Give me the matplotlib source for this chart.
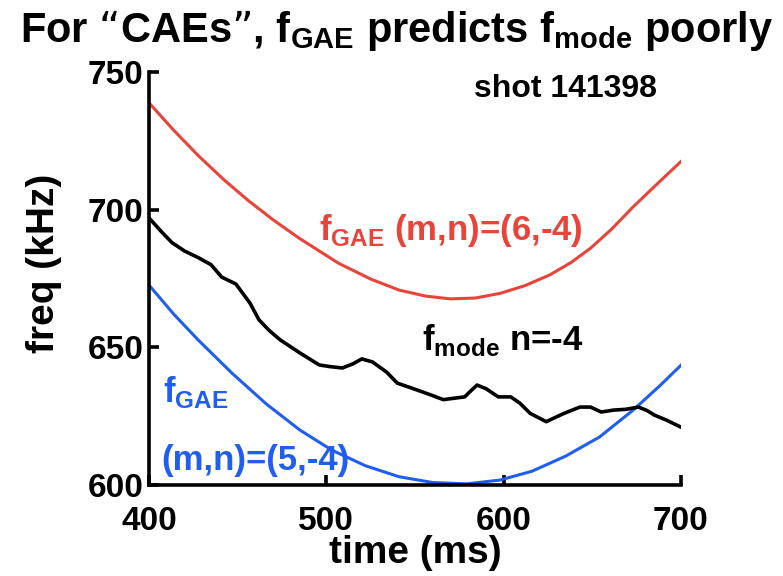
import matplotlib
matplotlib.use("Agg")
import matplotlib.pyplot as plt

# f_GAE for (m,n)=(6,-4)
red_t = [400, 414, 428, 442, 456, 470, 485, 507, 525, 541, 556, 570, 584, 598, 612, 626, 638, 649, 661, 673, 686, 700]
red_f = [738.8, 728.8, 719.5, 711.0, 703.3, 696.3, 689.5, 680.5, 674.8, 670.8, 668.6, 667.6, 667.9, 669.6, 672.4,
         676.3, 680.8, 686.0, 693.0, 701.0, 709.0, 717.5]

# f_GAE for (m,n)=(5,-4)
blue_t = [400, 414, 428, 447, 466, 485, 503, 522, 541, 560, 579, 598, 616, 635, 654, 673, 688, 700]
blue_f = [672.6, 662.0, 652.5, 640.5, 629.5, 620.0, 612.7, 607.0, 603.0, 600.9, 600.4, 601.8, 605.0, 610.5, 617.4,
          627.2, 636.0, 643.5]

# measured mode frequency, n=-4
mode_t = [400, 407, 413, 420, 428, 435, 441, 449, 457, 462, 468, 474, 485, 496, 502, 509, 515, 520, 526, 534, 540,
          549, 559, 566, 572, 578, 582, 585, 590, 597, 604, 609, 615, 624, 629, 634, 643, 649, 655, 662, 669, 676,
          681, 685, 692, 700]
mode_f = [697.0, 692.0, 688.0, 685.0, 682.5, 680.0, 675.5, 673.0, 666.0, 660.0, 656.0, 652.7, 648.0, 643.6, 643.0,
          642.5, 644.0, 645.8, 644.7, 641.0, 637.0, 635.0, 632.7, 631.0, 631.5, 632.0, 634.5, 636.3, 635.0, 632.0,
          632.0, 629.8, 626.0, 623.0, 624.5, 626.0, 628.3, 628.3, 626.5, 627.2, 627.5, 628.3, 627.0, 625.4, 623.5,
          621.0]

xticks = [400, 500, 600, 700]
yticks = [600, 650, 700, 750]

plt.rcParams["font.family"] = ["Liberation Sans", "DejaVu Sans"]
plt.rcParams["font.weight"] = "bold"

RED = "#e8443a"
BLUE = "#1f5ef0"

fig = plt.figure(figsize=(7.83, 5.76), dpi=100)
ax = fig.add_axes([0.1903, 0.158, 0.6794, 0.717])

ax.plot(red_t, red_f, color=RED, lw=2.2)
ax.plot(blue_t, blue_f, color=BLUE, lw=2.2)
ax.plot(mode_t, mode_f, color="black", lw=2.6)

ax.set_xlim(400, 700)
ax.set_ylim(600, 750)
ax.set_xticks(xticks)
ax.set_yticks(yticks)

for side in ("top", "right"):
    ax.spines[side].set_visible(False)
for side in ("left", "bottom"):
    ax.spines[side].set_linewidth(2.6)

ax.tick_params(axis="both", direction="in", length=7, width=2.6, labelsize=24)
ax.tick_params(axis="y", pad=4)
ax.tick_params(axis="x", pad=15)

ax.set_xlabel("time (ms)", fontsize=28, fontweight="bold")
ax.set_ylabel("freq (kHz)", fontsize=28, fontweight="bold")
ax.xaxis.set_label_coords(0.5, -0.121)
ax.yaxis.set_label_coords(-0.164, 0.537)

ax.text(583, 741, "shot 141398", fontsize=23, fontweight="bold", color="black")
ax.text(496, 689, r"f$_{\mathregular{GAE}}$ (m,n)=(6,-4)", fontsize=25,
        fontweight="bold", color=RED)
ax.text(554, 649, r"f$_{\mathregular{mode}}$ n=-4", fontsize=25,
        fontweight="bold", color="black")
ax.text(408, 630, r"f$_{\mathregular{GAE}}$", fontsize=25,
        fontweight="bold", color=BLUE)
ax.text(407, 605.4, "(m,n)=(5,-4)", fontsize=25,
        fontweight="bold", color=BLUE)

fig.text(0.507, 0.927, r"For “CAEs”, f$_{\mathregular{GAE}}$ predicts f$_{\mathregular{mode}}$ poorly",
         ha="center", va="baseline", fontsize=30, fontweight="bold")

fig.savefig("out.png", dpi=100)
